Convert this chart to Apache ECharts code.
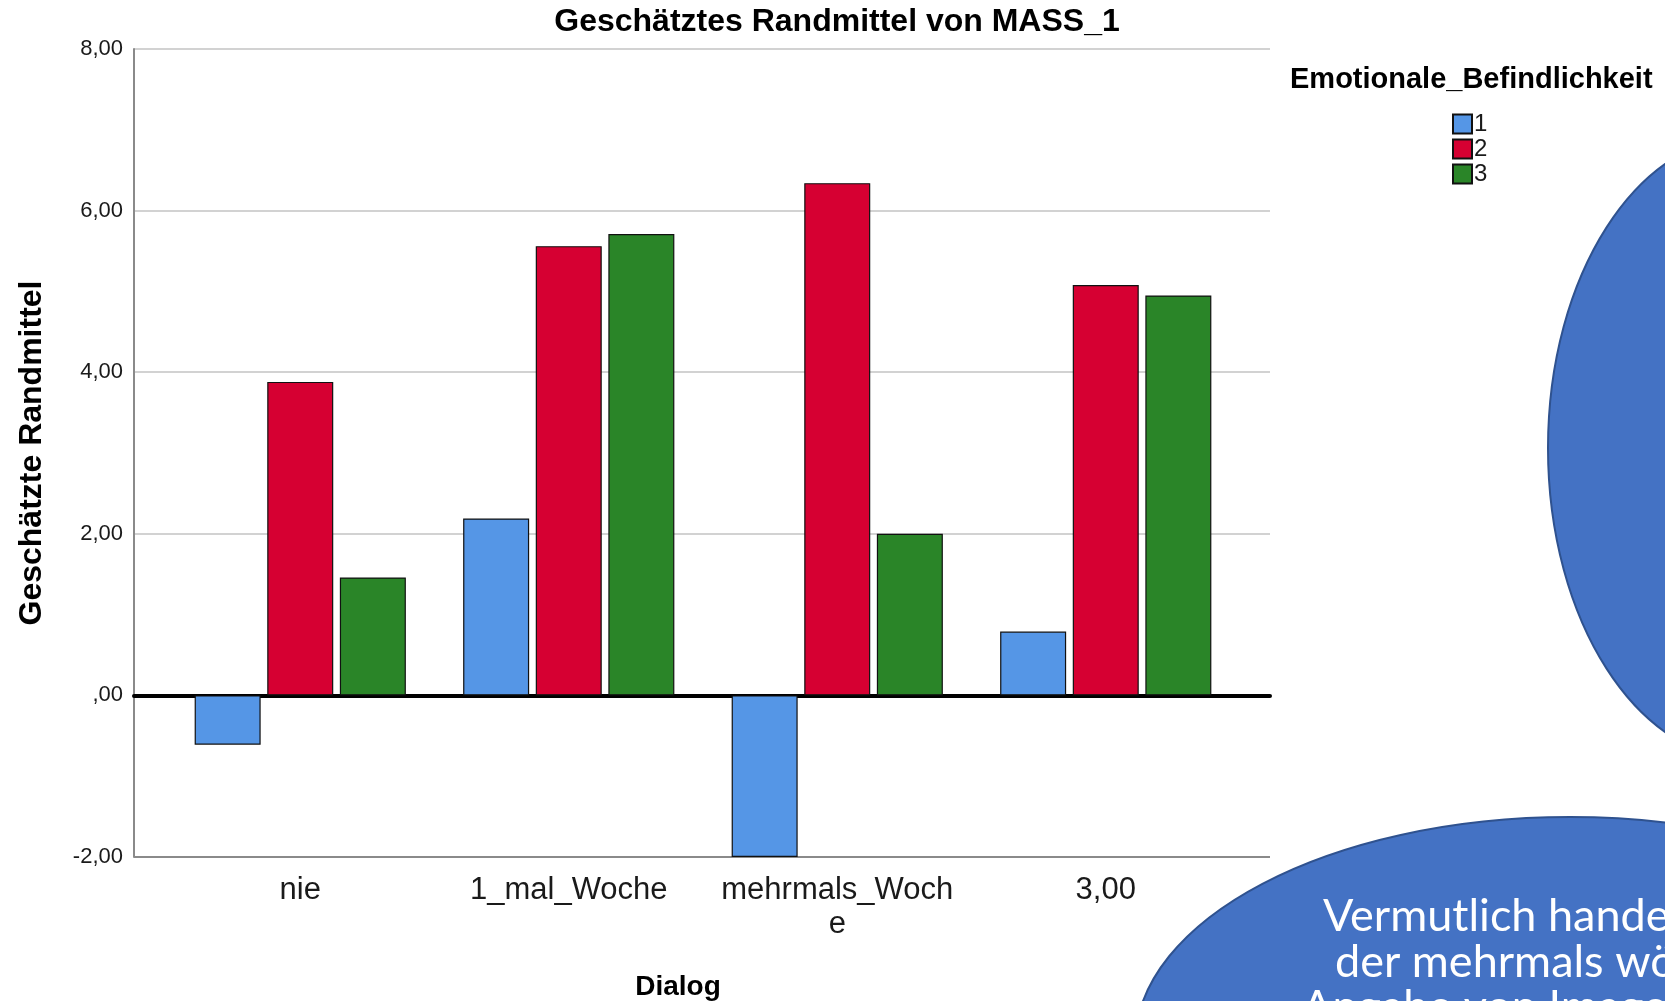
<!DOCTYPE html>
<html>
<head>
<meta charset="utf-8">
<script src="https://cdn.jsdelivr.net/npm/echarts@6/dist/echarts.min.js"></script>
<style>
  html, body { margin: 0; padding: 0; background: #ffffff; }
  #chart { width: 1665px; height: 1001px; }
</style>
</head>
<body>
<div id="chart"></div>
<script>
// ---- data ----
const categories = ['nie', '1_mal_Woche', 'mehrmals_Woche', '3,00'];
const seriesNames = ['1', '2', '3'];
const values1 = [-0.61, 2.19, -2.0, 0.79];
const values2 = [3.88, 5.56, 6.34, 5.08];
const values3 = [1.46, 5.71, 2.0, 4.95];
const yTicks = [-2, 0, 2, 4, 6, 8];
const yTickLabels = ['-2,00', ',00', '2,00', '4,00', '6,00', '8,00'];
const chartTitle = 'Geschätztes Randmittel von MASS_1';
const yTitle = 'Geschätzte Randmittel';
const xTitle = 'Dialog';
const legendTitle = 'Emotionale_Befindlichkeit';
const noteLines = ['Vermutlich handelt', 'der mehrmals wöch', 'Angabe von Image'];
const colors = ['#5596E6', '#D60032', '#2A8528'];

const FONT = '"Liberation Sans", Arial, sans-serif';
const NOTE_FONT = '45px Lato, "Open Sans", sans-serif';
const chart = echarts.init(document.getElementById('chart'), null, { renderer: 'canvas' });

const seriesData = [values1, values2, values3];

const option = {
  animation: false,
  backgroundColor: '#ffffff',
  textStyle: { fontFamily: FONT },
  grid: [
    { left: 134, right: 395, top: 49, bottom: 144, containLabel: false },
    { left: 166, right: 425, top: 49, bottom: 144, containLabel: false }
  ],
  xAxis: [
    {
      gridIndex: 0, type: 'value', min: 0, max: 1,
      axisLine: { show: true, onZero: true, lineStyle: { color: '#000000', width: 4 } },
      axisTick: { show: false }, axisLabel: { show: false }, splitLine: { show: false }
    },
    {
      gridIndex: 1, type: 'category', data: categories,
      axisLine: { show: false, onZero: false },
      axisTick: { show: false },
      axisLabel: {
        color: '#1a1a1a', fontSize: 31, fontFamily: FONT, margin: 16,
        lineHeight: 34, width: 241, overflow: 'breakAll', interval: 0
      },
      splitLine: { show: false }
    }
  ],
  yAxis: [
    {
      gridIndex: 0, type: 'value', min: yTicks[0], max: yTicks[yTicks.length - 1], interval: 2,
      axisLine: { show: true, onZero: false, lineStyle: { color: '#8a8a8a', width: 2 } },
      axisTick: { show: false },
      axisLabel: {
        color: '#1a1a1a', fontSize: 22, fontFamily: FONT, margin: 11,
        formatter: function (v) { const i = yTicks.indexOf(v); return i >= 0 ? yTickLabels[i] : ''; }
      },
      splitLine: {
        show: true,
        lineStyle: { color: ['#8a8a8a', '#d2d2d2', '#d2d2d2', '#d2d2d2', '#d2d2d2', '#d2d2d2'], width: 2 }
      },
      name: yTitle, nameLocation: 'middle', nameRotate: 90, nameGap: 86,
      nameTextStyle: { color: '#000', fontSize: 32, fontWeight: 'bold', fontFamily: FONT }
    },
    {
      gridIndex: 1, type: 'value', min: yTicks[0], max: yTicks[yTicks.length - 1], interval: 2,
      show: false
    }
  ],
  legend: {
    orient: 'vertical', left: 1447, top: 107,
    itemWidth: 19, itemHeight: 19, itemGap: 1, icon: 'rect',
    data: seriesNames,
    textStyle: { color: '#1a1a1a', fontSize: 24, fontFamily: FONT, padding: [0, 0, 0, -3] }
  },
  series: seriesNames.map(function (name, k) {
    return {
      name: name, type: 'bar', xAxisIndex: 1, yAxisIndex: 1,
      data: seriesData[k], barWidth: 66, barGap: '10%',
      itemStyle: { color: colors[k], borderColor: '#111111', borderWidth: 1.2 },
      clip: true
    };
  }),
  graphic: [
    {
      type: 'text', x: 837, y: 22, z: 10,
      style: { text: chartTitle, fill: '#000', font: 'bold 32px ' + FONT, textAlign: 'center', textVerticalAlign: 'middle' }
    },
    {
      type: 'text', x: 678, y: 987, z: 10,
      style: { text: xTitle, fill: '#000', font: 'bold 28px ' + FONT, textAlign: 'center', textVerticalAlign: 'middle' }
    },
    {
      type: 'text', x: 1290, y: 80, z: 10,
      style: { text: legendTitle, fill: '#000', font: 'bold 29px ' + FONT, textAlign: 'left', textVerticalAlign: 'middle' }
    },
    {
      type: 'ellipse', z: 20,
      shape: { cx: 1748, cy: 448, rx: 200, ry: 312 },
      style: { fill: '#4472C4', stroke: '#2F528F', lineWidth: 2 }
    },
    {
      type: 'ellipse', z: 20,
      shape: { cx: 1570, cy: 1045, rx: 435, ry: 228 },
      style: { fill: '#4472C4', stroke: '#2F528F', lineWidth: 2 }
    },
    {
      type: 'text', x: 1323, y: 916, z: 21,
      style: { text: noteLines[0], fill: '#ffffff', font: NOTE_FONT, textAlign: 'left', textVerticalAlign: 'middle' }
    },
    {
      type: 'text', x: 1335, y: 962, z: 21,
      style: { text: noteLines[1], fill: '#ffffff', font: NOTE_FONT, textAlign: 'left', textVerticalAlign: 'middle' }
    },
    {
      type: 'text', x: 1302, y: 1007, z: 21,
      style: { text: noteLines[2], fill: '#ffffff', font: NOTE_FONT, textAlign: 'left', textVerticalAlign: 'middle' }
    }
  ]
};
chart.setOption(option);
</script>
</body>
</html>
